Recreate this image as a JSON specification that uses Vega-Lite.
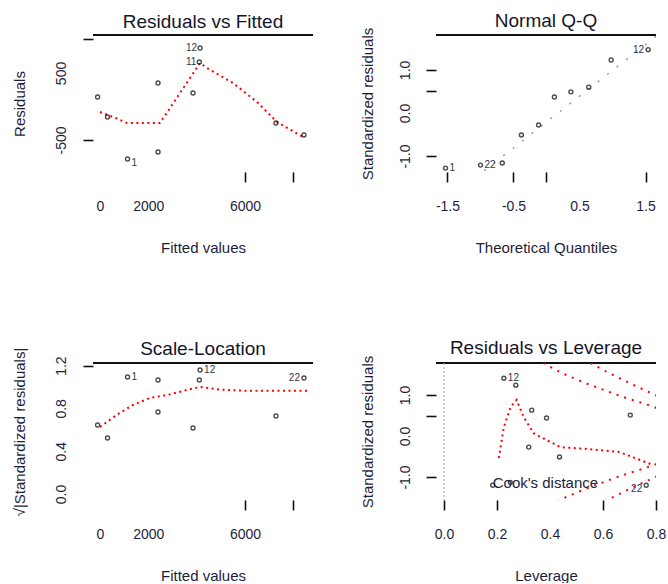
{
  "$schema": "https://vega.github.io/schema/vega-lite/v6.json",
  "background": "white",
  "padding": {"left": 12, "top": 12, "right": 0, "bottom": 0},
  "columns": 2,
  "spacing": {"row": 191, "column": 123},
  "bounds": "flush",
  "config": {
    "font": "Liberation Sans",
    "view": {"stroke": null},
    "title": {"fontSize": 19, "fontWeight": "normal", "color": "#15152a", "frame": "group", "anchor": "middle", "offset": 2, "font": "Liberation Sans"},
    "axis": {"grid": false, "domain": false, "ticks": true, "tickColor": "#111", "tickWidth": 1.6, "tickSize": 10, "labelFontSize": 14, "labelColor": "#1e1e3c", "titleFontSize": 15, "titleFontWeight": "normal", "titleColor": "#1e1e3c", "labelFlush": false, "labelOverlap": false, "labelFont": "Liberation Sans", "titleFont": "Liberation Sans"},
    "axisX": {"labelPadding": 17, "titlePadding": 27, "labelOverlap": false},
    "axisY": {"labelAngle": -90, "labelAlign": "center", "labelBaseline": "bottom", "labelPadding": 15, "titlePadding": 27, "labelOverlap": false}
  },
  "datasets": {
    "fitted_obs": [
      {"id": 2, "fitted": -100, "residual": 142, "sqrt_std": 0.645},
      {"id": 3, "fitted": 310, "residual": -157, "sqrt_std": 0.523},
      {"id": 1, "fitted": 1140, "residual": -784, "sqrt_std": 1.093},
      {"id": 4, "fitted": 2400, "residual": 351, "sqrt_std": 0.766},
      {"id": 5, "fitted": 2400, "residual": -679, "sqrt_std": 1.065},
      {"id": 6, "fitted": 3848, "residual": 201, "sqrt_std": 0.617},
      {"id": 12, "fitted": 4140, "residual": 873, "sqrt_std": 1.159},
      {"id": 11, "fitted": 4110, "residual": 664, "sqrt_std": 1.065},
      {"id": 7, "fitted": 7280, "residual": -246, "sqrt_std": 0.729},
      {"id": 22, "fitted": 8440, "residual": -425, "sqrt_std": 1.084}
    ],
    "rvf_smooth": [
      {"fitted": 0, "residual": -82},
      {"fitted": 700, "residual": -180},
      {"fitted": 1117, "residual": -246},
      {"fitted": 1862, "residual": -246},
      {"fitted": 2482, "residual": -246},
      {"fitted": 3300, "residual": 196},
      {"fitted": 4137, "residual": 649},
      {"fitted": 4427, "residual": 575},
      {"fitted": 5503, "residual": 351},
      {"fitted": 6496, "residual": 67},
      {"fitted": 7323, "residual": -231},
      {"fitted": 8399, "residual": -455}
    ],
    "sl_smooth": [
      {"fitted": 0, "sqrt_std": 0.626},
      {"fitted": 700, "sqrt_std": 0.74},
      {"fitted": 1365, "sqrt_std": 0.832},
      {"fitted": 2069, "sqrt_std": 0.897},
      {"fitted": 2772, "sqrt_std": 0.925},
      {"fitted": 3600, "sqrt_std": 0.972},
      {"fitted": 4137, "sqrt_std": 1.0},
      {"fitted": 5000, "sqrt_std": 0.975},
      {"fitted": 6000, "sqrt_std": 0.965},
      {"fitted": 7000, "sqrt_std": 0.965},
      {"fitted": 8600, "sqrt_std": 0.965}
    ],
    "qq": [
      {"id": 1, "theoretical": -1.53, "std_resid": -1.28},
      {"id": 22, "theoretical": -1.0, "std_resid": -1.21},
      {"id": 5, "theoretical": -0.67, "std_resid": -1.16},
      {"id": 7, "theoretical": -0.38, "std_resid": -0.51},
      {"id": 3, "theoretical": -0.12, "std_resid": -0.28},
      {"id": 6, "theoretical": 0.12, "std_resid": 0.37},
      {"id": 2, "theoretical": 0.37, "std_resid": 0.49},
      {"id": 4, "theoretical": 0.64, "std_resid": 0.6},
      {"id": 11, "theoretical": 0.98, "std_resid": 1.23},
      {"id": 12, "theoretical": 1.54, "std_resid": 1.47}
    ],
    "qq_line": [
      {"theoretical": -1.8, "std_resid": -2.37},
      {"theoretical": 1.8, "std_resid": 1.95}
    ],
    "lev": [
      {"id": 1, "leverage": 0.184, "std_resid": -1.2},
      {"id": 5, "leverage": 0.25, "std_resid": -1.13},
      {"id": 12, "leverage": 0.226, "std_resid": 1.41},
      {"id": 11, "leverage": 0.271, "std_resid": 1.24},
      {"id": 4, "leverage": 0.331, "std_resid": 0.63},
      {"id": 3, "leverage": 0.32, "std_resid": -0.27},
      {"id": 6, "leverage": 0.387, "std_resid": 0.44},
      {"id": 7, "leverage": 0.436, "std_resid": -0.51},
      {"id": 2, "leverage": 0.703, "std_resid": 0.51},
      {"id": 22, "leverage": 0.763, "std_resid": -1.2}
    ],
    "lev_smooth": [
      {"leverage": 0.207, "std_resid": -0.54},
      {"leverage": 0.226, "std_resid": 0.22},
      {"leverage": 0.252, "std_resid": 0.71},
      {"leverage": 0.274, "std_resid": 0.88},
      {"leverage": 0.301, "std_resid": 0.46},
      {"leverage": 0.338, "std_resid": 0.07},
      {"leverage": 0.387, "std_resid": -0.1},
      {"leverage": 0.44, "std_resid": -0.27},
      {"leverage": 0.549, "std_resid": -0.32},
      {"leverage": 0.662, "std_resid": -0.39},
      {"leverage": 0.79, "std_resid": -0.71}
    ],
    "cook": [
      {"curve": "0.5 upper", "leverage": 0.30, "std_resid": 2.11},
      {"curve": "0.5 upper", "leverage": 0.35, "std_resid": 1.88},
      {"curve": "0.5 upper", "leverage": 0.40, "std_resid": 1.69},
      {"curve": "0.5 upper", "leverage": 0.45, "std_resid": 1.52},
      {"curve": "0.5 upper", "leverage": 0.50, "std_resid": 1.38},
      {"curve": "0.5 upper", "leverage": 0.55, "std_resid": 1.25},
      {"curve": "0.5 upper", "leverage": 0.60, "std_resid": 1.13},
      {"curve": "0.5 upper", "leverage": 0.65, "std_resid": 1.01},
      {"curve": "0.5 upper", "leverage": 0.70, "std_resid": 0.90},
      {"curve": "0.5 upper", "leverage": 0.75, "std_resid": 0.80},
      {"curve": "0.5 upper", "leverage": 0.80, "std_resid": 0.69},
      {"curve": "0.5 upper", "leverage": 0.85, "std_resid": 0.58},
      {"curve": "0.5 lower", "leverage": 0.30, "std_resid": -2.11},
      {"curve": "0.5 lower", "leverage": 0.35, "std_resid": -1.88},
      {"curve": "0.5 lower", "leverage": 0.40, "std_resid": -1.69},
      {"curve": "0.5 lower", "leverage": 0.45, "std_resid": -1.52},
      {"curve": "0.5 lower", "leverage": 0.50, "std_resid": -1.38},
      {"curve": "0.5 lower", "leverage": 0.55, "std_resid": -1.25},
      {"curve": "0.5 lower", "leverage": 0.60, "std_resid": -1.13},
      {"curve": "0.5 lower", "leverage": 0.65, "std_resid": -1.01},
      {"curve": "0.5 lower", "leverage": 0.70, "std_resid": -0.90},
      {"curve": "0.5 lower", "leverage": 0.75, "std_resid": -0.80},
      {"curve": "0.5 lower", "leverage": 0.80, "std_resid": -0.69},
      {"curve": "0.5 lower", "leverage": 0.85, "std_resid": -0.58},
      {"curve": "1 upper", "leverage": 0.45, "std_resid": 2.18},
      {"curve": "1 upper", "leverage": 0.50, "std_resid": 1.98},
      {"curve": "1 upper", "leverage": 0.55, "std_resid": 1.79},
      {"curve": "1 upper", "leverage": 0.60, "std_resid": 1.61},
      {"curve": "1 upper", "leverage": 0.65, "std_resid": 1.45},
      {"curve": "1 upper", "leverage": 0.70, "std_resid": 1.29},
      {"curve": "1 upper", "leverage": 0.75, "std_resid": 1.14},
      {"curve": "1 upper", "leverage": 0.80, "std_resid": 0.99},
      {"curve": "1 upper", "leverage": 0.85, "std_resid": 0.83},
      {"curve": "1 lower", "leverage": 0.45, "std_resid": -2.18},
      {"curve": "1 lower", "leverage": 0.50, "std_resid": -1.98},
      {"curve": "1 lower", "leverage": 0.55, "std_resid": -1.79},
      {"curve": "1 lower", "leverage": 0.60, "std_resid": -1.61},
      {"curve": "1 lower", "leverage": 0.65, "std_resid": -1.45},
      {"curve": "1 lower", "leverage": 0.70, "std_resid": -1.29},
      {"curve": "1 lower", "leverage": 0.75, "std_resid": -1.14},
      {"curve": "1 lower", "leverage": 0.80, "std_resid": -0.99},
      {"curve": "1 lower", "leverage": 0.85, "std_resid": -0.83}
    ],
    "cook_legend": [
      {"leverage": 0.184, "std_resid": -1.146, "label": "Cook's distance"}
    ]
  },
  "concat": [
    {
      "width": 220, "height": 137,
      "title": {"text": "Residuals vs Fitted", "offset": 2},
      "layer": [
        {
          "data": {"values": [{}]},
          "mark": {"type": "rule", "strokeWidth": 2, "color": "#111"},
          "encoding": {"y": {"datum": 1067, "type": "quantitative", "scale": {"domain": [-978, 1067], "nice": false, "zero": false}}}
        },
        {
          "data": {"name": "rvf_smooth"},
          "mark": {"type": "line", "color": "#ff0000", "strokeWidth": 2, "strokeDash": [2, 3.5], "clip": true},
          "encoding": {
            "x": {"field": "fitted", "type": "quantitative", "scale": {"domain": [-290, 8813], "nice": false, "zero": false}},
            "y": {"field": "residual", "type": "quantitative", "scale": {"domain": [-978, 1067], "nice": false, "zero": false}}
          }
        },
        {
          "data": {"name": "fitted_obs"},
          "mark": {"type": "point", "shape": "circle", "size": 16, "filled": false, "color": "#000", "strokeWidth": 1.4},
          "encoding": {
            "x": {"field": "fitted", "type": "quantitative", "scale": {"domain": [-290, 8813], "nice": false, "zero": false},
              "axis": {"title": "Fitted values", "labelOverlap": false, "values": [0, 2000, 6000, 8000], "labelExpr": "datum.value == 8000 ? '' : format(datum.value, 'd')", "tickOpacity": {"condition": {"test": "datum.value < 5000", "value": 0}, "value": 1}}},
            "y": {"field": "residual", "type": "quantitative", "scale": {"domain": [-978, 1067], "nice": false, "zero": false},
              "axis": {"title": "Residuals", "labelOverlap": false, "values": [-500, 500, 1000], "labelExpr": "datum.value == 1000 ? '' : (datum.value < 0 ? '-' : '') + format(abs(datum.value), 'd')", "tickOpacity": {"condition": {"test": "datum.value == 500", "value": 0}, "value": 1}}}
          }
        },
        {
          "data": {"name": "fitted_obs"},
          "transform": [{"filter": "datum.id == 1"}],
          "mark": {"type": "text", "align": "left", "dx": 4, "dy": 4, "fontSize": 10, "color": "#33334d"},
          "encoding": {
            "x": {"field": "fitted", "type": "quantitative"},
            "y": {"field": "residual", "type": "quantitative"},
            "text": {"field": "id", "type": "nominal"}
          }
        },
        {
          "data": {"name": "fitted_obs"},
          "transform": [{"filter": "datum.id == 11 || datum.id == 12"}],
          "mark": {"type": "text", "align": "right", "dx": -3, "fontSize": 10, "color": "#33334d"},
          "encoding": {
            "x": {"field": "fitted", "type": "quantitative"},
            "y": {"field": "residual", "type": "quantitative"},
            "text": {"field": "id", "type": "nominal"}
          }
        }
      ]
    },
    {
      "width": 220, "height": 137,
      "title": {"text": "Normal Q-Q", "offset": -4},
      "layer": [
        {
          "data": {"values": [{}]},
          "mark": {"type": "rule", "strokeWidth": 2, "color": "#111"},
          "encoding": {"y": {"datum": 1.81, "type": "quantitative", "scale": {"domain": [-1.37, 1.81], "nice": false, "zero": false}}}
        },
        {
          "data": {"name": "qq_line"},
          "mark": {"type": "line", "color": "#999999", "strokeWidth": 1.5, "strokeDash": [2, 10], "clip": true},
          "encoding": {
            "x": {"field": "theoretical", "type": "quantitative", "scale": {"domain": [-1.674, 1.659], "nice": false, "zero": false}},
            "y": {"field": "std_resid", "type": "quantitative", "scale": {"domain": [-1.37, 1.81], "nice": false, "zero": false}}
          }
        },
        {
          "data": {"name": "qq"},
          "mark": {"type": "point", "shape": "circle", "size": 16, "filled": false, "color": "#000", "strokeWidth": 1.4},
          "encoding": {
            "x": {"field": "theoretical", "type": "quantitative", "scale": {"domain": [-1.674, 1.659], "nice": false, "zero": false},
              "axis": {"title": "Theoretical Quantiles", "labelOverlap": false, "values": [-1.5, -0.5, 0, 0.5, 1.5], "labelExpr": "datum.value == 0 ? '' : (datum.value < 0 ? '-' : '') + format(abs(datum.value), '.1f')", "tickOpacity": {"condition": {"test": "datum.value == 0.5", "value": 0}, "value": 1}}},
            "y": {"field": "std_resid", "type": "quantitative", "scale": {"domain": [-1.37, 1.81], "nice": false, "zero": false},
              "axis": {"title": "Standardized residuals", "labelOverlap": false, "labelPadding": 14, "titlePadding": 23, "values": [-1, 0, 0.5, 1], "labelExpr": "datum.value == 0.5 ? '' : (datum.value < 0 ? '-' : '') + format(abs(datum.value), '.1f')", "tickOpacity": {"condition": {"test": "datum.value == 0", "value": 0}, "value": 1}}}
          }
        },
        {
          "data": {"name": "qq"},
          "transform": [{"filter": "datum.id == 1 || datum.id == 22"}],
          "mark": {"type": "text", "align": "left", "dx": 4, "fontSize": 10, "color": "#33334d"},
          "encoding": {
            "x": {"field": "theoretical", "type": "quantitative"},
            "y": {"field": "std_resid", "type": "quantitative"},
            "text": {"field": "id", "type": "nominal"}
          }
        },
        {
          "data": {"name": "qq"},
          "transform": [{"filter": "datum.id == 12"}],
          "mark": {"type": "text", "align": "right", "dx": -4, "fontSize": 10, "color": "#33334d"},
          "encoding": {
            "x": {"field": "theoretical", "type": "quantitative"},
            "y": {"field": "std_resid", "type": "quantitative"},
            "text": {"field": "id", "type": "nominal"}
          }
        }
      ]
    },
    {
      "width": 220, "height": 137,
      "title": {"text": "Scale-Location", "offset": -12},
      "layer": [
        {
          "data": {"values": [{}]},
          "mark": {"type": "rule", "strokeWidth": 2, "color": "#111"},
          "encoding": {"y": {"datum": 1.224, "type": "quantitative", "scale": {"domain": [-0.056, 1.224], "nice": false, "zero": false}}}
        },
        {
          "data": {"name": "sl_smooth"},
          "mark": {"type": "line", "color": "#ff0000", "strokeWidth": 2, "strokeDash": [2, 3.5], "clip": true},
          "encoding": {
            "x": {"field": "fitted", "type": "quantitative", "scale": {"domain": [-290, 8813], "nice": false, "zero": false}},
            "y": {"field": "sqrt_std", "type": "quantitative", "scale": {"domain": [-0.056, 1.224], "nice": false, "zero": false}}
          }
        },
        {
          "data": {"name": "fitted_obs"},
          "mark": {"type": "point", "shape": "circle", "size": 16, "filled": false, "color": "#000", "strokeWidth": 1.4},
          "encoding": {
            "x": {"field": "fitted", "type": "quantitative", "scale": {"domain": [-290, 8813], "nice": false, "zero": false},
              "axis": {"title": "Fitted values", "labelOverlap": false, "values": [0, 2000, 6000, 8000], "labelExpr": "datum.value == 8000 ? '' : format(datum.value, 'd')", "tickOpacity": {"condition": {"test": "datum.value < 5000", "value": 0}, "value": 1}}},
            "y": {"field": "sqrt_std", "type": "quantitative", "scale": {"domain": [-0.056, 1.224], "nice": false, "zero": false},
              "axis": {"title": "√|Standardized residuals|", "labelOverlap": false, "values": [0, 0.4, 0.8, 1.2], "format": ".1f", "tickOpacity": {"condition": {"test": "datum.value < 0.9", "value": 0}, "value": 1}}}
          }
        },
        {
          "data": {"name": "fitted_obs"},
          "transform": [{"filter": "datum.id == 1 || datum.id == 12"}],
          "mark": {"type": "text", "align": "left", "dx": 4, "fontSize": 10, "color": "#33334d"},
          "encoding": {
            "x": {"field": "fitted", "type": "quantitative"},
            "y": {"field": "sqrt_std", "type": "quantitative"},
            "text": {"field": "id", "type": "nominal"}
          }
        },
        {
          "data": {"name": "fitted_obs"},
          "transform": [{"filter": "datum.id == 22"}],
          "mark": {"type": "text", "align": "right", "dx": -4, "fontSize": 10, "color": "#33334d"},
          "encoding": {
            "x": {"field": "fitted", "type": "quantitative"},
            "y": {"field": "sqrt_std", "type": "quantitative"},
            "text": {"field": "id", "type": "nominal"}
          }
        }
      ]
    },
    {
      "width": 220, "height": 137,
      "title": {"text": "Residuals vs Leverage", "offset": -3},
      "layer": [
        {
          "data": {"values": [{}]},
          "mark": {"type": "rule", "strokeWidth": 2, "color": "#111"},
          "encoding": {"y": {"datum": 1.78, "type": "quantitative", "scale": {"domain": [-1.56, 1.78], "nice": false, "zero": false}}}
        },
        {
          "data": {"values": [{}]},
          "mark": {"type": "rule", "strokeWidth": 1.2, "color": "#aaaaaa", "strokeDash": [2, 2]},
          "encoding": {"x": {"datum": 0, "type": "quantitative", "scale": {"domain": [-0.03, 0.8], "nice": false, "zero": false}}}
        },
        {
          "data": {"name": "cook"},
          "mark": {"type": "line", "color": "#ff0000", "strokeWidth": 2, "strokeDash": [2, 6], "clip": true},
          "encoding": {
            "x": {"field": "leverage", "type": "quantitative", "scale": {"domain": [-0.03, 0.8], "nice": false, "zero": false}},
            "y": {"field": "std_resid", "type": "quantitative", "scale": {"domain": [-1.56, 1.78], "nice": false, "zero": false}},
            "detail": {"field": "curve", "type": "nominal"}
          }
        },
        {
          "data": {"name": "lev_smooth"},
          "mark": {"type": "line", "color": "#ff0000", "strokeWidth": 2, "strokeDash": [2, 3.5], "clip": true},
          "encoding": {
            "x": {"field": "leverage", "type": "quantitative", "scale": {"domain": [-0.03, 0.8], "nice": false, "zero": false}},
            "y": {"field": "std_resid", "type": "quantitative", "scale": {"domain": [-1.56, 1.78], "nice": false, "zero": false}}
          }
        },
        {
          "data": {"name": "lev"},
          "mark": {"type": "point", "shape": "circle", "size": 16, "filled": false, "color": "#000", "strokeWidth": 1.4},
          "encoding": {
            "x": {"field": "leverage", "type": "quantitative", "scale": {"domain": [-0.03, 0.8], "nice": false, "zero": false},
              "axis": {"title": "Leverage", "labelOverlap": false, "values": [0, 0.2, 0.4, 0.6, 0.8], "format": ".1f", "tickOpacity": {"condition": {"test": "datum.value == 0.4", "value": 0}, "value": 1}}},
            "y": {"field": "std_resid", "type": "quantitative", "scale": {"domain": [-1.56, 1.78], "nice": false, "zero": false},
              "axis": {"title": "Standardized residuals", "labelOverlap": false, "labelPadding": 14, "titlePadding": 23, "values": [-1, 0, 0.5, 1], "labelExpr": "datum.value == 0.5 ? '' : (datum.value < 0 ? '-' : '') + format(abs(datum.value), '.1f')", "tickOpacity": {"condition": {"test": "datum.value == 0", "value": 0}, "value": 1}}}
          }
        },
        {
          "data": {"name": "lev"},
          "transform": [{"filter": "datum.id == 12"}],
          "mark": {"type": "text", "align": "left", "dx": 4, "fontSize": 10, "color": "#33334d"},
          "encoding": {
            "x": {"field": "leverage", "type": "quantitative"},
            "y": {"field": "std_resid", "type": "quantitative"},
            "text": {"field": "id", "type": "nominal"}
          }
        },
        {
          "data": {"name": "lev"},
          "transform": [{"filter": "datum.id == 22"}],
          "mark": {"type": "text", "align": "right", "dx": -4, "dy": 4, "fontSize": 10, "color": "#33334d"},
          "encoding": {
            "x": {"field": "leverage", "type": "quantitative"},
            "y": {"field": "std_resid", "type": "quantitative"},
            "text": {"field": "id", "type": "nominal"}
          }
        },
        {
          "data": {"name": "cook_legend"},
          "mark": {"type": "text", "align": "left", "baseline": "middle", "fontSize": 15, "color": "#1e1e3c"},
          "encoding": {
            "x": {"field": "leverage", "type": "quantitative"},
            "y": {"field": "std_resid", "type": "quantitative"},
            "text": {"field": "label", "type": "nominal"}
          }
        }
      ]
    }
  ]
}
